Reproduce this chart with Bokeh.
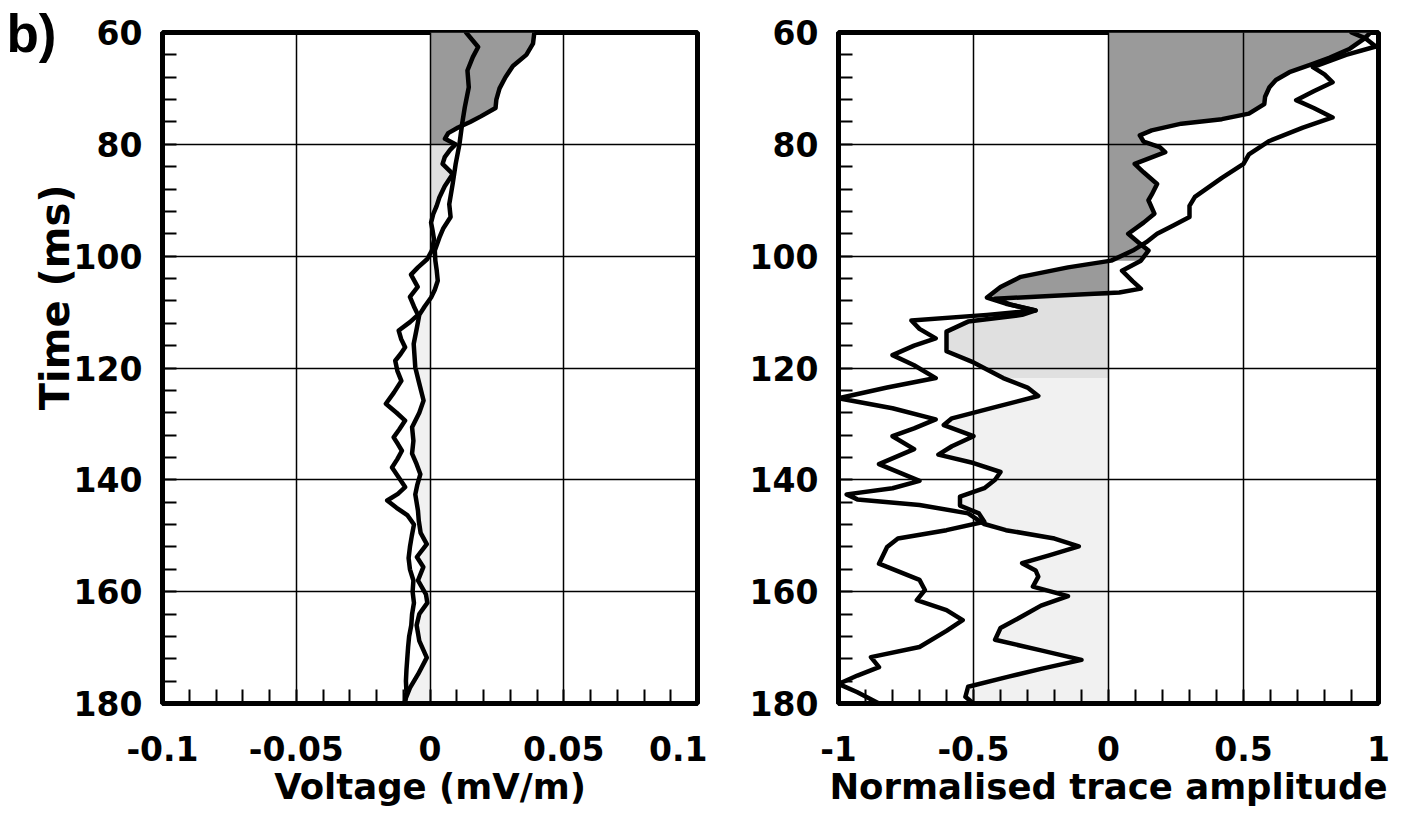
import numpy as np
from bokeh.plotting import figure
from bokeh.layouts import row
from bokeh.models import Range1d, FixedTicker, Title
from bokeh.embed import file_html
from bokeh.resources import INLINE

# ---------------- data ----------------
# Left panel: two voltage traces (mV/m) against time (ms)
t_v1 = [60, 62, 64, 66, 68, 70, 72, 73.5, 75, 76,
        77, 78, 79, 80, 81, 82.3, 83.5, 85.3, 87.5, 89.5,
        91, 92.5, 94, 95.5, 97, 99, 100.5, 102, 103.3, 105.5,
        107.3, 109, 110.5, 111.8, 113.3, 114.8, 116.3, 117.5, 118.7, 120.5,
        122.3, 124.4, 126.4, 128, 129.4, 131, 132.4, 133.6, 134.8, 136.3,
        137.8, 139.5, 141.3, 142.5, 143.7, 145, 146.3, 148, 150, 152,
        154, 156, 158, 160, 162, 164, 166, 168, 170, 172,
        174, 176, 178, 180]
v1 = [0.039, 0.0385, 0.036, 0.031, 0.0282, 0.026, 0.0248, 0.0245, 0.019, 0.015,
      0.0105, 0.0068, 0.0056, 0.0095, 0.0075, 0.0055, 0.0047, 0.0085, 0.0055, 0.0035,
      0.0025, 0.0012, 0.0004, 0.001, 0.0015, 0.0007, -0.001, -0.0045, -0.0071, -0.0046,
      -0.0075, -0.006, -0.0045, -0.0075, -0.0117, -0.0108, -0.0093, -0.011, -0.013, -0.0122,
      -0.0107, -0.0135, -0.0165, -0.0125, -0.0093, -0.0115, -0.0136, -0.012, -0.0105, -0.0122,
      -0.0142, -0.0118, -0.0093, -0.012, -0.016, -0.0125, -0.0085, -0.006, -0.0068, -0.0075,
      -0.008, -0.0075, -0.0062, -0.0065, -0.006, -0.0067, -0.007, -0.0078, -0.0082, -0.0085,
      -0.0088, -0.009, -0.0088, -0.0095]

t_v2 = [60, 62.6, 64.4, 66.8, 69.8, 73.4, 76.4, 80, 83.5, 87,
        90.7, 93, 95, 96.7, 99, 100.8, 102.5, 104.4, 106, 107.4,
        109, 110.5, 112.8, 115.7, 117.8, 119.9, 122.8, 125.8, 128, 130.6,
        133, 135.3, 137.2, 139, 141, 142.6, 145.5, 147.3, 149.5, 151.5,
        153.8, 155.6, 158, 160.5, 162, 164, 166, 168.8, 171.8, 174.8,
        177.2, 179, 180]
v2 = [0.0135, 0.018, 0.016, 0.014, 0.0145, 0.013, 0.012, 0.011, 0.0096, 0.0085,
      0.0072, 0.0077, 0.005, 0.0035, 0.0018, 0.002, 0.0025, 0.0029, 0.0018, 0.0004,
      -0.002, -0.004, -0.0049, -0.0061, -0.0058, -0.0055, -0.004, -0.0024, -0.004, -0.0067,
      -0.0062, -0.0067, -0.005, -0.0036, -0.0048, -0.0055, -0.0045, -0.0042, -0.0035, -0.0012,
      -0.0049, -0.0025, -0.0045, -0.0015, -0.001, -0.004, -0.005, -0.004, -0.0012, -0.0045,
      -0.0075, -0.009, -0.0095]

# Right panel: two normalised trace amplitudes against time (ms)
t_a1 = [60, 61, 62.9, 64.5, 65.6, 67.1, 68.5, 69.8, 71.5, 72.8,
        74.5, 75.5, 76.3, 77.5, 78.4, 79.5, 80.5, 81.4, 82.5, 83.5,
        85, 87.1, 89, 90, 92.4, 94, 96, 97.5, 99, 100.8,
        102.6, 104.5, 105.8, 106.5, 107.1, 107.6, 108.7, 109.7, 110.5, 111.7,
        113.5, 115, 117, 119, 121.8, 123.5, 125, 127, 129, 130.2,
        132.2, 134, 135.5, 137, 138.6, 140, 141.5, 143, 144.6, 146,
        147.5, 149, 150.5, 152, 155, 157.9, 159.7, 161.5, 163.3, 165.1,
        167, 169.9, 171.7, 173.5, 175, 176.5, 178, 180]
a1 = [0.97, 0.95, 0.894, 0.82, 0.757, 0.67, 0.62, 0.596, 0.58, 0.577,
      0.52, 0.42, 0.27, 0.16, 0.116, 0.13, 0.19, 0.21, 0.15, 0.097,
      0.13, 0.18, 0.16, 0.148, 0.17, 0.13, 0.073, 0.11, 0.148, 0.12,
      0.05, 0.09, 0.12, 0.04, -0.2, -0.42, -0.36, -0.27, -0.32, -0.52,
      -0.6, -0.6, -0.6, -0.5, -0.39, -0.3, -0.26, -0.42, -0.58, -0.61,
      -0.5, -0.58, -0.63, -0.5, -0.4, -0.42, -0.46, -0.55, -0.55, -0.48,
      -0.46, -0.6, -0.78, -0.82, -0.85, -0.7, -0.68, -0.71, -0.6, -0.54,
      -0.6, -0.7, -0.88, -0.85, -0.93, -1.0, -0.93, -0.85]

t_a2 = [60, 61, 62.5, 64, 66.2, 67.5, 68.9, 70.5, 72.1, 73.5,
        75.2, 77, 79.4, 81.8, 83.5, 86, 89.4, 91, 93, 94.5,
        96, 97.5, 99, 100.8, 102, 103.7, 105.5, 107.4, 108.5, 109.7,
        110.5, 111.5, 113, 114.7, 116, 117.7, 119.5, 121.8, 123.5, 125.4,
        127.2, 129.2, 130.8, 132.2, 134.5, 137.2, 140.2, 141.5, 142.6, 143.5,
        144.5, 146, 147.9, 149, 150.5, 151.9, 153.5, 154.9, 156.2, 157.3,
        159.1, 160.8, 162.5, 164.4, 166.5, 168.6, 170.5, 172.2, 173.8, 175.2,
        177, 178.8, 180]
a2 = [0.9, 0.95, 0.99, 0.88, 0.757, 0.8, 0.83, 0.76, 0.695, 0.76,
      0.83, 0.72, 0.596, 0.52, 0.5, 0.42, 0.32, 0.3, 0.3, 0.24,
      0.18, 0.14, 0.09, 0.01, -0.15, -0.325, -0.4, -0.45, -0.38, -0.27,
      -0.45, -0.73, -0.7, -0.64, -0.72, -0.8, -0.72, -0.64, -0.82, -1.0,
      -0.8, -0.64, -0.72, -0.8, -0.72, -0.85, -0.7, -0.8, -0.97, -0.93,
      -0.7, -0.52, -0.46, -0.38, -0.2, -0.11, -0.22, -0.32, -0.27, -0.26,
      -0.28, -0.15, -0.25, -0.32, -0.4, -0.42, -0.25, -0.1, -0.25, -0.37,
      -0.52, -0.53, -0.5]

# axes / ticks
y_major = [60, 80, 100, 120, 140, 160, 180]
y_minor = list(range(60, 181, 4))
xl_major = [-0.1, -0.05, 0, 0.05, 0.1]
xl_labels = ["-0.1", "-0.05", "0", "0.05", "0.1"]
xr_major = [-1, -0.5, 0, 0.5, 1]
xr_labels = ["-1", "-0.5", "0", "0.5", "1"]

FONT = "DejaVu Sans"
DARK = "#9a9a9a"
LIGHT = "#e0e0e0"
PALE = "#f1f1f1"


def panel(xs, xe, major, labels, minor, bl, br, fw, xlabel):
    p = figure(frame_width=fw, frame_height=671,
               x_range=Range1d(xs, xe), y_range=Range1d(180, 60),
               min_border_left=bl, min_border_right=br,
               min_border_top=32, min_border_bottom=0,
               output_backend="svg", toolbar_location=None)
    p.outline_line_color = "black"
    p.outline_line_width = 5
    p.xaxis.ticker = FixedTicker(ticks=major, minor_ticks=minor)
    p.xaxis.major_label_overrides = dict(zip(major, labels))
    p.yaxis.ticker = FixedTicker(ticks=y_major, minor_ticks=y_minor)
    for ax in (p.xaxis[0], p.yaxis[0]):
        ax.axis_line_width = 5
        ax.axis_line_color = "black"
        ax.major_tick_in = 0
        ax.major_tick_out = 0
        ax.minor_tick_in = 14
        ax.minor_tick_out = 0
        ax.minor_tick_line_width = 2
        ax.minor_tick_line_color = "black"
        ax.major_label_text_font = FONT
        ax.major_label_text_font_style = "bold"
        ax.major_label_text_font_size = "33px"
        ax.major_label_text_color = "black"
    p.xaxis.major_label_standoff = 32
    p.yaxis.major_label_standoff = 20
    p.xaxis.axis_label = xlabel
    p.xaxis.axis_label_text_font = FONT
    p.xaxis.axis_label_text_font_style = "bold"
    p.xaxis.axis_label_text_font_size = "35.5px"
    p.xaxis.axis_label_text_color = "black"
    p.xaxis.axis_label_standoff = 2
    p.grid.grid_line_color = "black"
    p.grid.grid_line_width = 1.5
    p.grid.level = "overlay"
    return p


def fill(p, t, x, lo, hi, color):
    t = np.asarray(t, dtype=float)
    x = np.asarray(x, dtype=float)
    m = (t >= lo) & (t <= hi)
    p.harea(y=t[m], x1=np.zeros(m.sum()), x2=x[m], fill_color=color)


# ---------------- left panel ----------------
p1 = panel(-0.1, 0.1, xl_major, xl_labels, list(np.round(np.arange(-0.1, 0.1001, 0.01), 3)),
           162, 10, 535, "Voltage (mV/m)")
fill(p1, t_v1, v1, 60, 80, DARK)
fill(p1, t_v1, v1, 80, 100.5, LIGHT)
fill(p1, t_v2, v2, 99, 180, PALE)
for t, v in ((t_v1, v1), (t_v2, v2)):
    p1.line(x=v, y=t, line_width=4.5, line_color="black", line_join="round", line_cap="round")

# panel letter, placed in the (unclipped) title panel above the frame
p1.title.text = "b)"
p1.title.align = "left"
p1.title.offset = -156
p1.title.vertical_align = "bottom"
p1.title.standoff = -60
p1.title.text_font = "Liberation Sans"
p1.title.text_font_style = "bold"
p1.title.text_font_size = "53px"
p1.title.text_color = "black"

p1.add_layout(Title(text="Time (ms)", align="right", offset=152, text_font=FONT,
                    text_font_style="bold", text_font_size="40px", text_color="black",
                    vertical_align="bottom", standoff=-14), "left")

# ---------------- right panel ----------------
p2 = panel(-1, 1, xr_major, xr_labels, list(np.round(np.arange(-1, 1.001, 0.1), 2)),
           131, 28, 540, "Normalised trace amplitude")
fill(p2, t_a1, a1, 60, 100.8, DARK)
fill(p2, t_a2, a2, 100.8, 107.4, DARK)
fill(p2, t_a1, a1, 107.1, 121.8, LIGHT)
fill(p2, t_a1, a1, 121.8, 147.5, PALE)
fill(p2, t_a2, a2, 146, 180, PALE)
for t, a in ((t_a1, a1), (t_a2, a2)):
    p2.line(x=a, y=t, line_width=4.5, line_color="black", line_join="round", line_cap="round")

layout = row(p1, p2)
open("out.html", "w").write(file_html(layout, INLINE))
